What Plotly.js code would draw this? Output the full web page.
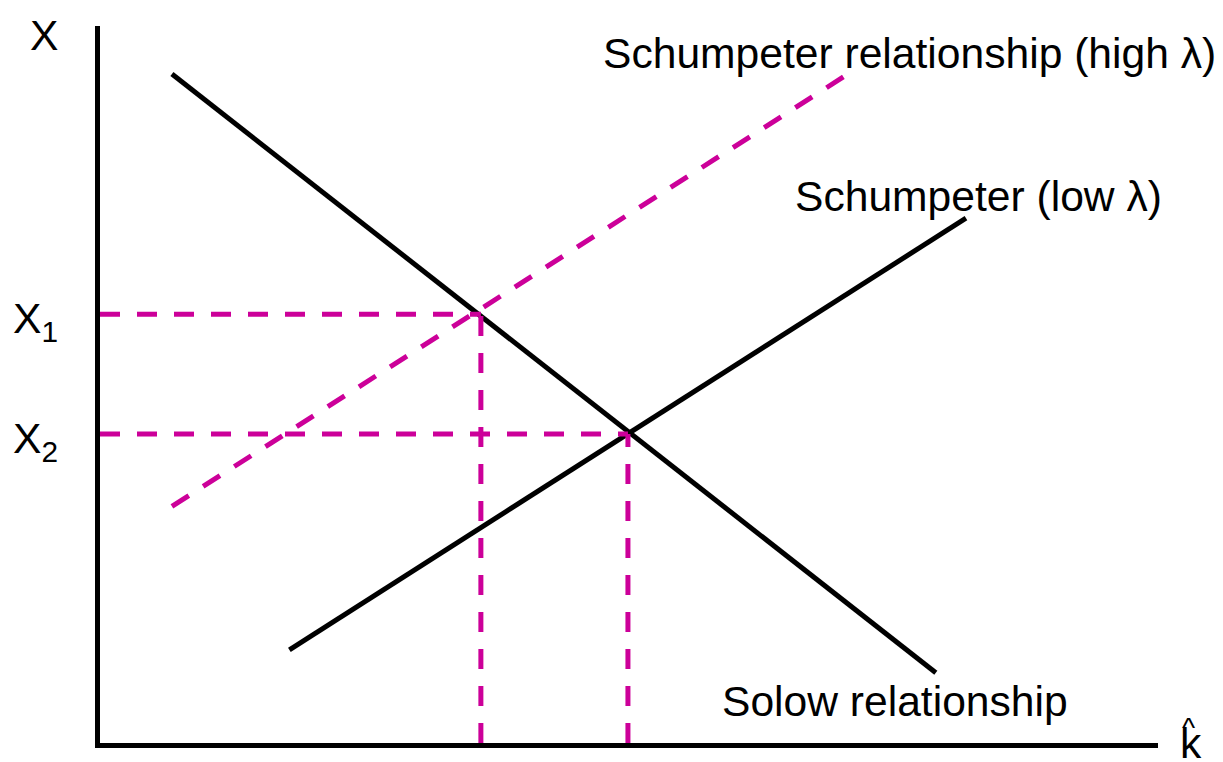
<!DOCTYPE html>
<html>
<head>
<meta charset="utf-8">
<script src="https://cdn.plot.ly/plotly-3.0.1.min.js"></script>
<style>html,body{margin:0;padding:0;background:#fff}#chart{width:1223px;height:762px}</style>
</head>
<body>
<div id="chart"></div>
<script>
// Curve endpoints (k-hat on x, X on y), abstract units
const kSolow = [0.68, 7.90];
const xSolow = [9.33, 0.98];
const kLow = [1.79, 8.185];
const xLow = [1.30, 7.32];
const kHigh = [0.68, 7.08];
const xHigh = [3.30, 9.34];
// Equilibria
const eqK = [3.60, 4.99];
const eqX = [5.98, 4.31];
const eqLabels = ['X<sub>1</sub>', 'X<sub>2</sub>'];
const curveLabels = ['Schumpeter relationship (high λ)', 'Schumpeter (low λ)', 'Solow relationship'];
const axisLabels = ['X', 'k', '^'];

const MAG = '#cc0099';
const DASH = '20px,17px';
const FONT = 'Liberation Sans, Arial, sans-serif';
const LW = 5;
const FS = 42.6;

const traces = [
  {x: kSolow, y: xSolow, mode: 'lines', line: {color: '#000', width: LW}},
  {x: kLow, y: xLow, mode: 'lines', line: {color: '#000', width: LW}},
  {x: kHigh, y: xHigh, mode: 'lines', line: {color: MAG, width: LW, dash: DASH}}
];
for (let i = 0; i < eqK.length; i++) {
  traces.push({x: [0, eqK[i]], y: [eqX[i], eqX[i]], mode: 'lines', line: {color: MAG, width: LW, dash: DASH}});
  traces.push({x: [eqK[i], eqK[i]], y: [0, eqX[i]], mode: 'lines', line: {color: MAG, width: LW, dash: DASH}});
}

const ann = (text, x, y, opts) => Object.assign({
  text, x, y, xref: 'x', yref: 'y', showarrow: false, xanchor: 'left', yanchor: 'middle',
  font: {family: FONT, size: FS, color: '#000'}
}, opts || {});

const annotations = [
  ann(curveLabels[0], 4.735, 9.62),
  ann(curveLabels[1], 6.55, 7.63),
  ann(curveLabels[2], 5.86, 0.59),
  ann(axisLabels[0], -0.068, 0.987, {xref: 'paper', yref: 'paper'}),
  ann(axisLabels[1], 1.019, 0.0, {xref: 'paper', yref: 'paper'}),
  ann(axisLabels[2], 1.0285, 0.021, {xref: 'paper', yref: 'paper', xanchor: 'center',
      font: {family: FONT, size: 28, color: '#000'}})
];
for (let i = 0; i < eqX.length; i++) {
  annotations.push(ann(eqLabels[i], -0.0841, eqX[i], {xref: 'paper', yshift: -7}));
}

const layout = {
  width: 1223, height: 762,
  margin: {l: 100, r: 65, t: 26, b: 19},
  paper_bgcolor: '#fff', plot_bgcolor: '#fff',
  showlegend: false,
  xaxis: {range: [0, 10], showgrid: false, zeroline: false, showticklabels: false, ticks: '',
          showline: true, linecolor: '#000', linewidth: LW, fixedrange: true},
  yaxis: {range: [0, 10], showgrid: false, zeroline: false, showticklabels: false, ticks: '',
          showline: true, linecolor: '#000', linewidth: LW, fixedrange: true},
  annotations
};

Plotly.newPlot('chart', traces, layout, {displayModeBar: false, staticPlot: true});
</script>
</body>
</html>
